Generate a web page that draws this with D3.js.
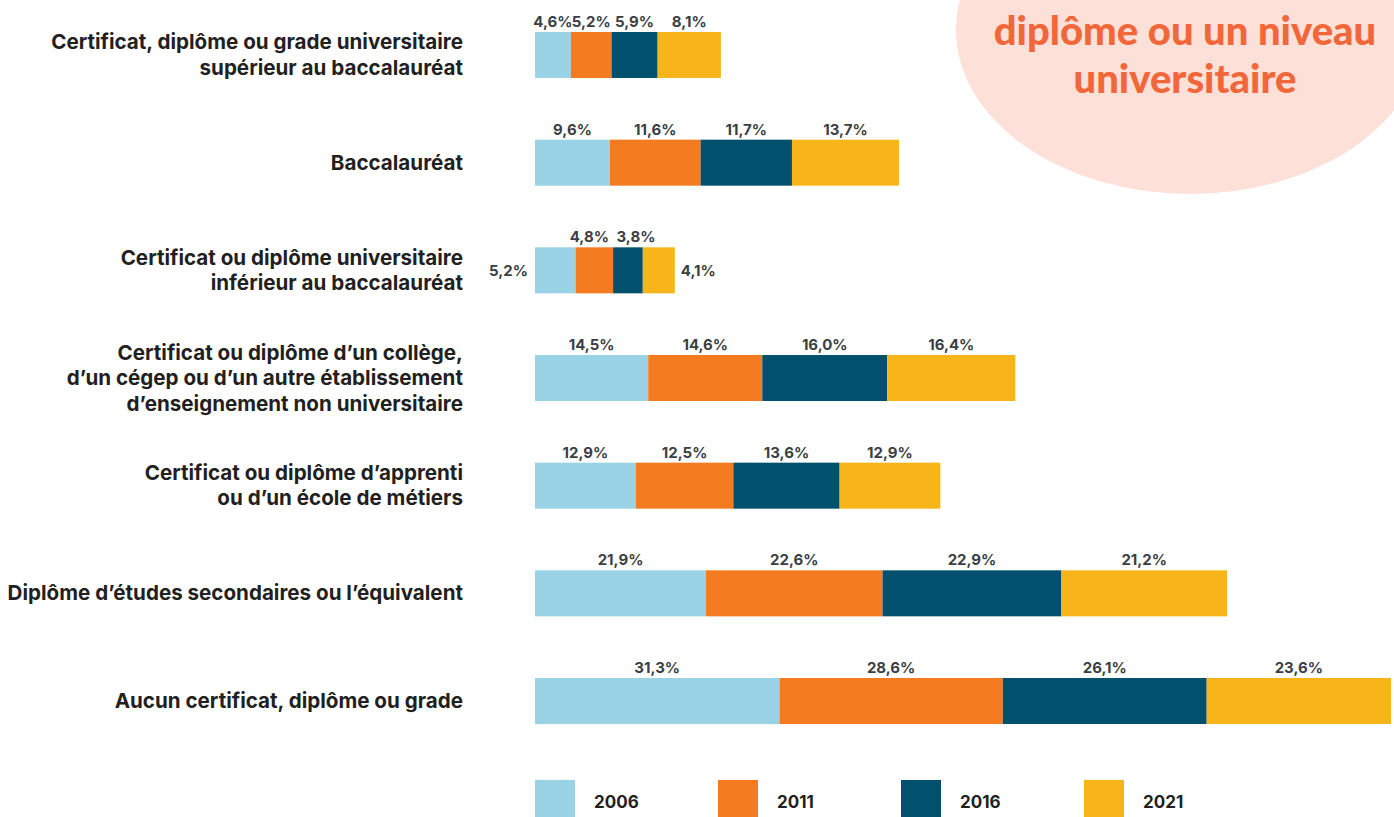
<!DOCTYPE html>
<html>
<head>
<meta charset="utf-8">
<script src="https://cdn.jsdelivr.net/npm/d3@7"></script>
<style>
  body { margin: 0; background: #fff; overflow: hidden; }
  svg { display: block; font-family: Inter, Lato, sans-serif; }
</style>
</head>
<body>
<div id="viz"></div>
<script>
// categories, top to bottom (each entry = lines of the label)
var categories = [
  ["Certificat, diplôme ou grade universitaire", "supérieur au baccalauréat"],
  ["Baccalauréat"],
  ["Certificat ou diplôme universitaire", "inférieur au baccalauréat"],
  ["Certificat ou diplôme d’un collège,", "d’un cégep ou d’un autre établissement", "d’enseignement non universitaire"],
  ["Certificat ou diplôme d’apprenti", "ou d’un école de métiers"],
  ["Diplôme d’études secondaires ou l’équivalent"],
  ["Aucun certificat, diplôme ou grade"]
];
var years = ["2006", "2011", "2016", "2021"];
var values2006 = [4.6, 9.6, 5.2, 14.5, 12.9, 21.9, 31.3];
var values2011 = [5.2, 11.6, 4.8, 14.6, 12.5, 22.6, 28.6];
var values2016 = [5.9, 11.7, 3.8, 16.0, 13.6, 22.9, 26.1];
var values2021 = [8.1, 13.7, 4.1, 16.4, 12.9, 21.2, 23.6];
var titleLines = ["diplôme ou un niveau", "universitaire"];

var series = [values2006, values2011, values2016, values2021];
var colors = ["#9bd3e6", "#f47b20", "#00506e", "#f7b519"];

var width = 1394, height = 817,
    barH = 46;

var svg = d3.select("div#viz").append("svg")
            .attr("width", width)
            .attr("height", height);

// pink blob with the title, cut by the top of the page
svg.append("ellipse")
   .attr("cx", 1190).attr("cy", 30)
   .attr("rx", 234).attr("ry", 164)
   .attr("fill", "#fde0d8");

svg.selectAll("text.title")
   .data(titleLines)
   .enter().append("text")
   .attr("class", "title")
   .attr("x", 1185)
   .attr("y", function(d, i) { return 45 + i * 48; })
   .attr("text-anchor", "middle")
   .attr("font-family", "Lato, sans-serif")
   .attr("font-size", 40)
   .attr("font-weight", 900)
   .attr("fill", "#f26739")
   .text(function(d) { return d; });

// scales
var rows = d3.range(categories.length);
var yScale = d3.scalePoint().domain(rows).range([55, 701]);
var xScale = d3.scaleLinear().domain([0, 109.6]).range([535, 1391]);

// stack the years
var table = rows.map(function(i) {
  var o = { row: i };
  years.forEach(function(y, k) { o[y] = series[k][i]; });
  return o;
});
var stacked = d3.stack().keys(years)(table);

var layer = svg.selectAll("g.layer")
   .data(stacked)
   .enter().append("g")
   .attr("class", "layer")
   .attr("fill", function(d, k) { return colors[k]; });

layer.selectAll("rect")
   .data(function(d) { return d; })
   .enter().append("rect")
   .attr("x", function(d) { return xScale(d[0]); })
   .attr("y", function(d) { return yScale(d.data.row) - barH / 2; })
   .attr("width", function(d) { return xScale(d[1]) - xScale(d[0]); })
   .attr("height", barH);

// value labels
var fmt = function(v) { return v.toFixed(1).replace(".", ",") + "%"; };
layer.selectAll("text")
   .data(function(d) { return d.map(function(s) { s.k = d.index; return s; }); })
   .enter().append("text")
   .attr("fill", "#3a3f44")
   .attr("font-size", 15)
   .attr("font-weight", 700)
   .each(function(d) {
     var t = d3.select(this),
         cy = yScale(d.data.row),
         mid = (xScale(d[0]) + xScale(d[1])) / 2;
     if (d.data.row === 2 && d.k === 0) {          // narrow row: first label on the left
       t.attr("x", xScale(d[0]) - 7).attr("y", cy + 6).attr("text-anchor", "end");
     } else if (d.data.row === 2 && d.k === 3) {   // last label on the right
       t.attr("x", xScale(d[1]) + 6).attr("y", cy + 6).attr("text-anchor", "start");
     } else {
       var nudge = (d.data.row === 2) ? (d.k === 1 ? -5 : 8) : 0;
       t.attr("x", mid + nudge).attr("y", cy - barH / 2 - 5).attr("text-anchor", "middle");
     }
     t.text(fmt(d[1] - d[0]));
   });

// category labels
var cat = svg.selectAll("text.cat")
   .data(categories)
   .enter().append("text")
   .attr("class", "cat")
   .attr("text-anchor", "end")
   .attr("font-size", 20.6)
   .attr("font-weight", 700)
   .attr("fill", "#231f20");

cat.selectAll("tspan")
   .data(function(d, i) { return d.map(function(line, j) { return { line: line, j: j, n: d.length, row: i }; }); })
   .enter().append("tspan")
   .attr("x", 463)
   .attr("y", function(d) { return yScale(d.row) + 7 + (d.j - (d.n - 1) / 2) * 25.5; })
   .text(function(d) { return d.line; });

// legend
var legend = svg.selectAll("g.legend")
   .data(years)
   .enter().append("g")
   .attr("class", "legend")
   .attr("transform", function(d, i) { return "translate(" + (535 + i * 183) + ",780)"; });

legend.append("rect")
   .attr("width", 40).attr("height", 40)
   .attr("fill", function(d, i) { return colors[i]; });

legend.append("text")
   .attr("x", 59).attr("y", 28)
   .attr("font-size", 17)
   .attr("font-weight", 700)
   .attr("fill", "#231f20")
   .text(function(d) { return d; });
</script>
</body>
</html>
